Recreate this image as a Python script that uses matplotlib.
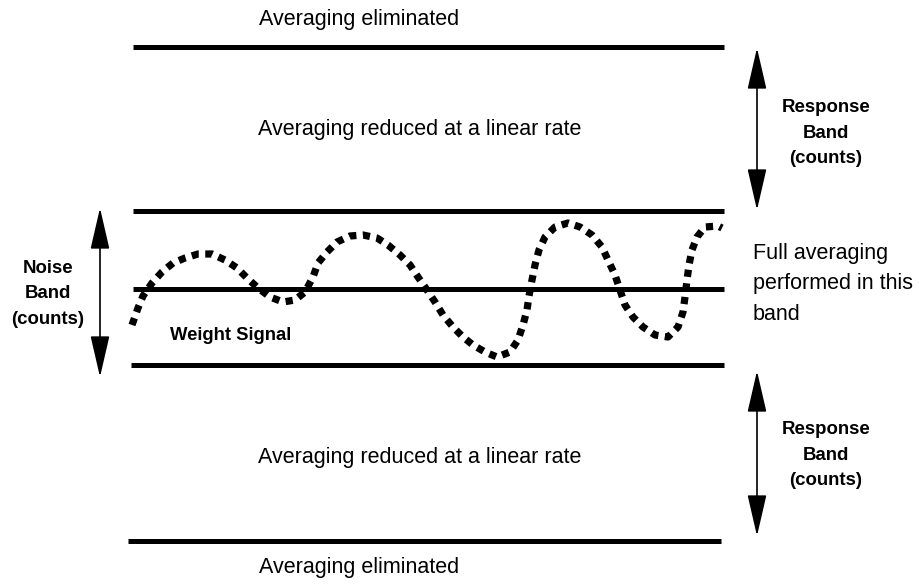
import matplotlib.pyplot as plt
from matplotlib.patches import FancyArrowPatch

# band boundary levels (diagram units, y grows downward) and their x extents
band_y = [47, 211, 289, 365, 541]
band_x0 = [133, 133, 133, 131, 128]
band_x1 = [724, 724, 724, 724, 721]

# weight signal
wave_x = [132, 138, 143, 152, 162, 173, 185, 198, 212, 225, 237, 247, 258, 270,
          283, 295, 305, 313, 318, 327, 337, 350, 363, 377, 388, 400, 410, 418,
          427, 435, 443, 453, 463, 473, 485, 497, 510, 518, 523, 527, 529, 532,
          535, 539, 545, 555, 568, 580, 592, 602, 608, 615, 620, 625, 633, 643,
          655, 668, 678, 683, 685, 687, 689, 692, 697, 705, 718, 722]
wave_y = [325, 308, 296, 283, 272, 263, 258, 254, 254, 260, 268, 278, 288, 297,
          302, 300, 292, 277, 263, 252, 242, 236, 235, 238, 245, 255, 265, 277,
          290, 302, 315, 327, 337, 345, 352, 357, 352, 340, 325, 310, 296, 280,
          265, 250, 237, 227, 223, 227, 235, 247, 260, 275, 290, 305, 317, 327,
          335, 337, 327, 312, 297, 280, 265, 250, 237, 227, 226, 228]

# double arrows: x, y_top, y_bottom
arrows = [(100, 208, 377), (757, 48, 210), (757, 371, 536)]

plt.rcParams['font.family'] = ['Liberation Sans', 'DejaVu Sans']

fig = plt.figure(figsize=(9.19, 5.84), dpi=100)
ax = fig.add_axes([0, 0, 1, 1])
ax.set_xlim(0, 919)
ax.set_ylim(584, 0)
ax.axis('off')

for y, x0, x1 in zip(band_y, band_x0, band_x1):
    ax.plot([x0, x1], [y, y], color='black', lw=3.6, solid_capstyle='butt')

ax.plot(wave_x, wave_y, color='black', lw=5.2, linestyle=(0, (1.0, 0.9)),
        dash_capstyle='butt')

for x, y0, y1 in arrows:
    ax.add_patch(FancyArrowPatch((x, y0), (x, y1),
                                 arrowstyle='<|-|>,head_length=26,head_width=6',
                                 mutation_scale=1, color='black', lw=1.2,
                                 shrinkA=0, shrinkB=0))

txt = dict(fontsize=15.5, ha='center', va='center')
ax.text(359, 20, 'Averaging eliminated', **txt)
ax.text(420, 129, 'Averaging reduced at a linear rate', **txt)
ax.text(420, 458, 'Averaging reduced at a linear rate', **txt)
ax.text(359, 567, 'Averaging eliminated', **txt)

ax.text(753, 284, 'Full averaging\nperformed in this\nband', fontsize=15.5,
        ha='left', va='center', linespacing=1.62)

bold = dict(fontsize=13.4, fontweight='bold', ha='center', va='center',
            linespacing=1.62)
ax.text(48, 294, 'Noise\nBand\n(counts)', **bold)
ax.text(826, 133, 'Response\nBand\n(counts)', **bold)
ax.text(826, 455, 'Response\nBand\n(counts)', **bold)
ax.text(231, 336, 'Weight Signal', fontsize=13.3, fontweight='bold',
        ha='center', va='center')

fig.savefig('out.png', dpi=100)
